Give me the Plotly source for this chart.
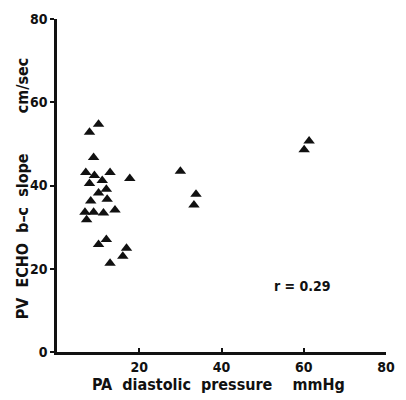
import plotly.graph_objects as go

pa_diastolic = [10.1, 7.9, 8.9, 7.0, 9.1, 12.9, 17.7, 7.9, 11.0, 12.0, 10.1, 12.2, 8.2, 6.8,
                8.9, 11.3, 14.1, 7.2, 12.0, 10.1, 16.9, 16.0, 12.9, 30.0, 33.8, 33.3, 61.3, 60.1]
bc_slope = [54.7, 52.8, 46.7, 43.1, 42.4, 43.1, 41.7, 40.5, 41.2, 39.1, 38.2, 36.7, 36.3, 33.6,
            33.6, 33.4, 34.1, 31.8, 27.0, 25.8, 24.9, 23.0, 21.3, 43.4, 37.9, 35.3, 50.7, 48.6]
x_ticks = [20, 40, 60, 80]
y_ticks = [0, 20, 40, 60, 80]
r_label = "r = 0.29"

FONT = "DejaVu Sans Condensed, Liberation Sans Narrow, sans-serif"
INK = "#111111"
S = "\u00a0"

fig = go.Figure()
fig.add_trace(go.Scatter(
    x=pa_diastolic, y=bc_slope, mode="markers",
    marker=dict(symbol="triangle-up", size=10, color=INK, line=dict(width=0)),
    showlegend=False,
))

fig.add_annotation(x=59.8, y=15.9, text=r_label, showarrow=False,
                   font=dict(family=FONT, size=14, color=INK, weight="bold"))
fig.add_annotation(xref="paper", yref="paper", x=-0.104, y=0.491,
                   xanchor="center", yanchor="middle",
                   text=f"PV{S*2}ECHO{S*2}b–c{S*2}slope{S*8}cm/sec",
                   textangle=-90, showarrow=False,
                   font=dict(family=FONT, size=16, color=INK, weight="bold"))
fig.add_annotation(xref="paper", yref="paper", x=0.49, y=-0.098,
                   xanchor="center", yanchor="middle",
                   text=f"PA{S*2}diastolic{S*2}pressure{S*4}mmHg",
                   showarrow=False,
                   font=dict(family=FONT, size=16, color=INK, weight="bold"))

fig.update_xaxes(range=[0, 80], tickvals=x_ticks, ticktext=[str(v) for v in x_ticks],
                 showgrid=False, zeroline=False, showline=True, linewidth=2.5,
                 linecolor=INK, ticks="inside", ticklen=4, tickwidth=2, tickcolor=INK,
                 tickfont=dict(family=FONT, size=14, color=INK, weight="bold"))
fig.update_yaxes(range=[0, 80], tickvals=y_ticks, ticktext=[str(v) for v in y_ticks],
                 showgrid=False, zeroline=False, showline=True, linewidth=2.5,
                 linecolor=INK, ticks="outside", ticklen=4, tickwidth=2, tickcolor=INK,
                 tickfont=dict(family=FONT, size=14, color=INK, weight="bold"))

fig.update_layout(width=406, height=400, margin=dict(l=57, r=11, t=14, b=48),
                  plot_bgcolor="white", paper_bgcolor="white")

fig.write_html("out.html")
